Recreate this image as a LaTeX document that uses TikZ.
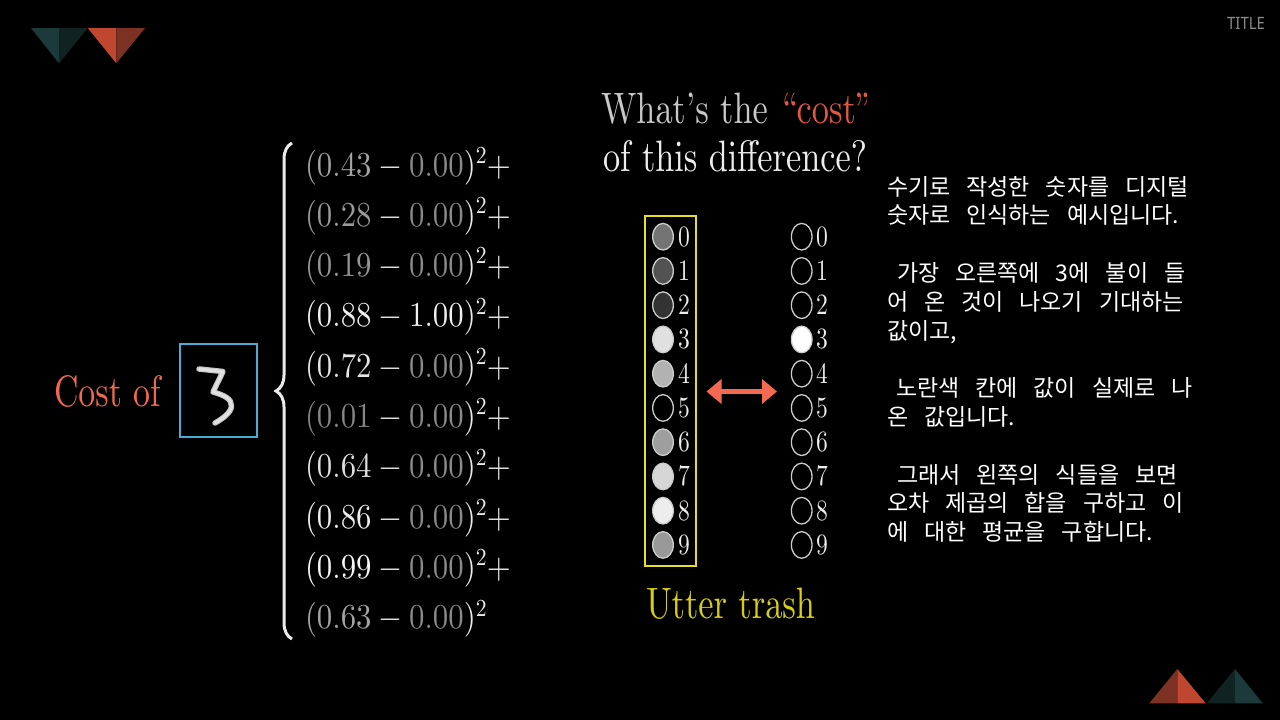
\RequirePackage{fix-cm}
\documentclass[tikz,border=0pt]{standalone}
\usepackage{fontspec}
\usepackage{graphicx}
\usetikzlibrary{arrows.meta,decorations.pathreplacing,shapes.geometric}
\DeclareFontShape{OT1}{cmr}{m}{n}{<->cmr10}{}
\newcommand{\cmten}{\fontencoding{OT1}\fontfamily{cmr}\fontseries{m}\fontshape{n}\selectfont}
\newfontfamily\krfont{Noto Sans CJK KR}
\newfontfamily\ttlfont{Noto Sans}
\definecolor{tealL}{RGB}{28,58,58}
\definecolor{tealD}{RGB}{16,34,34}
\definecolor{redL}{RGB}{192,71,47}
\definecolor{redD}{RGB}{125,49,34}
\definecolor{costred}{RGB}{226,88,64}
\definecolor{salmon}{RGB}{240,106,82}
\definecolor{boxcyan}{RGB}{72,172,214}
\definecolor{boxyellow}{RGB}{232,224,24}
\definecolor{trashyellow}{RGB}{214,206,22}
\definecolor{arrowred}{RGB}{244,106,80}
\definecolor{titlegray}{RGB}{140,140,140}
\definecolor{symw}{RGB}{234,234,234}
\definecolor{qgray}{RGB}{200,200,200}
\newcommand{\sqz}[2]{\scalebox{#1}[1]{#2}}
\newcommand{\erow}[5]{\sqz{0.88}{\fontsize{35}{40}\cmten$\textcolor{white!#2!black}{(#1}-\textcolor{white!#4!black}{#3}{)^2#5}$}}
\newcommand{\kr}[1]{\krfont\fontsize{23}{28}\selectfont\spaceskip=16pt\relax #1}
\newcommand{\dg}[1]{\sqz{0.8}{\fontsize{29.5}{30}\cmten #1}}
\begin{document}
\begin{tikzpicture}[x=1pt,y=-1pt,
  txt/.style={inner sep=0pt,outer sep=0pt},
  eq/.style={txt,anchor=base west,text=symw},
  kline/.style={txt,anchor=base west,text=white},
  neuron/.style={ellipse,draw=white!80!black,line width=1.3pt,minimum width=20.6pt,minimum height=26.6pt,inner sep=0pt},
  dlabel/.style={txt,text=white!93!black},
  big/.style={txt,anchor=base west}]
\useasboundingbox (0,0) rectangle (1280,720);
\fill[black] (0,0) rectangle (1280,720);
% decorative triangles top-left
\fill[tealL] (31,28) -- (59,28) -- (59,63.3) -- cycle;
\fill[tealD] (59,28) -- (87.7,28) -- (59,63.3) -- cycle;
\fill[redL] (87.7,28) -- (116.3,28) -- (116.3,63.3) -- cycle;
\fill[redD] (116.3,28) -- (145,28) -- (116.3,63.3) -- cycle;
% decorative triangles bottom-right
\fill[redD] (1149.3,703.3) -- (1177.3,703.3) -- (1177.3,669) -- cycle;
\fill[redL] (1177.3,703.3) -- (1205.7,703.3) -- (1177.3,669) -- cycle;
\fill[tealD] (1206.7,703.3) -- (1235,703.3) -- (1235,669) -- cycle;
\fill[tealL] (1235,703.3) -- (1262.7,703.3) -- (1235,669) -- cycle;
% title
\node[txt,anchor=base east,text=titlegray] (ttl) at (1265,29.3) {\sqz{0.88}{\ttlfont\fontsize{17}{17}\selectfont TITLE}};
\begin{scope}
\clip (0,0) rectangle (866,720);
% cost of
\node[big,text=salmon] (cost) at (54,406) {\sqz{0.77}{\fontsize{44}{50}\cmten Cost of}};
\node[draw=boxcyan,line width=2pt,minimum width=76.7pt,minimum height=93pt,inner sep=0pt] (imgbox) at (218.3,390.5) {};
\draw[gray!45,line width=5.5pt,line cap=round,line join=round] (199,369) -- (223,371.5) -- (213,392) .. controls (224,395) and (232,399) .. (231.5,406) .. controls (231,413) and (222,419) .. (215,423);
\draw[white!88!black,line width=3.2pt,line cap=round,line join=round] (199,369) -- (223,371.5) -- (213,392) .. controls (224,395) and (232,399) .. (231.5,406) .. controls (231,413) and (222,419) .. (215,423);
% brace
\coordinate (brB) at (292,639);
\coordinate (brT) at (292,143);
\draw[decorate,decoration={brace,amplitude=16pt,aspect=0.5},line width=3pt,draw=symw] (brB) -- (brT);
% equation rows
\node[eq] (r0) at (305,176.0) {\erow{0.43}{64}{0.00}{54}{+}};
\node[eq] (r1) at (305,226.3) {\erow{0.28}{60}{0.00}{54}{+}};
\node[eq] (r2) at (305,276.6) {\erow{0.19}{58}{0.00}{54}{+}};
\node[eq] (r3) at (305,326.9) {\erow{0.88}{94}{1.00}{94}{+}};
\node[eq] (r4) at (305,377.2) {\erow{0.72}{90}{0.00}{54}{+}};
\node[eq] (r5) at (305,427.5) {\erow{0.01}{52}{0.00}{54}{+}};
\node[eq] (r6) at (305,477.8) {\erow{0.64}{88}{0.00}{54}{+}};
\node[eq] (r7) at (305,528.1) {\erow{0.86}{93}{0.00}{54}{+}};
\node[eq] (r8) at (305,578.4) {\erow{0.99}{96}{0.00}{54}{+}};
\node[eq] (r9) at (305,628.7) {\erow{0.63}{64}{0.00}{54}{}};
% question
\node[big,text=qgray] (q1) at (601,123) {\sqz{0.78}{\fontsize{44}{50}\cmten What's the \textcolor{costred}{``cost''}}};
\node[big,text=white!93!black] (q2) at (603,171.5) {\sqz{0.78}{\fontsize{44}{50}\cmten of this difference?}};
% yellow box
\node[draw=boxyellow,line width=2pt,minimum width=51pt,minimum height=350pt,inner sep=0pt] (ybox) at (670.5,391) {};
% left neurons
\node[neuron,fill=white!45!black] (L0) at (663,236.7) {};
\node[neuron,fill=white!32!black] (L1) at (663,270.95) {};
\node[neuron,fill=white!20!black] (L2) at (663,305.2) {};
\node[neuron,fill=white!88!black] (L3) at (663,339.45) {};
\node[neuron,fill=white!70!black] (L4) at (663,373.7) {};
\node[neuron,fill=black] (L5) at (663,407.95) {};
\node[neuron,fill=white!62!black] (L6) at (663,442.2) {};
\node[neuron,fill=white!84!black] (L7) at (663,476.45) {};
\node[neuron,fill=white!93!black] (L8) at (663,510.7) {};
\node[neuron,fill=white!60!black] (L9) at (663,544.95) {};
\foreach \k/\yy in {0/236.7,1/270.95,2/305.2,3/339.45,4/373.7,5/407.95,6/442.2,7/476.45,8/510.7,9/544.95}{
  \node[dlabel] (lt\k) at (684,\yy) {\dg{\k}};
  \node[dlabel] (rt\k) at (822,\yy) {\dg{\k}};
}
% right neurons
\node[neuron,fill=black] (R0) at (801.7,236.7) {};
\node[neuron,fill=black] (R1) at (801.7,270.95) {};
\node[neuron,fill=black] (R2) at (801.7,305.2) {};
\node[neuron,fill=white] (R3) at (801.7,339.45) {};
\node[neuron,fill=black] (R4) at (801.7,373.7) {};
\node[neuron,fill=black] (R5) at (801.7,407.95) {};
\node[neuron,fill=black] (R6) at (801.7,442.2) {};
\node[neuron,fill=black] (R7) at (801.7,476.45) {};
\node[neuron,fill=black] (R8) at (801.7,510.7) {};
\node[neuron,fill=black] (R9) at (801.7,544.95) {};
% arrow
\coordinate (aL) at (706.5,391.5);
\coordinate (aR) at (777,391.5);
\draw[arrowred,line width=5pt,{Triangle[length=15pt,width=24pt]}-{Triangle[length=15pt,width=24pt]}] (aL) -- (aR);
% utter trash
\node[big,text=trashyellow] (trash) at (646,618) {\sqz{0.78}{\fontsize{44}{50}\cmten Utter trash}};
\end{scope}
% korean text
\node[kline] (k1) at (887,195) {\kr{수기로 작성한 숫자를 디지털}};
\node[kline] (k2) at (887,223.8) {\kr{숫자로 인식하는 예시입니다.}};
\node[kline] (k3) at (897,281.4) {\kr{가장 오른쪽에 3에 불이 들}};
\node[kline] (k4) at (887,310.2) {\kr{어 온 것이 나오기 기대하는}};
\node[kline] (k5) at (887,339) {\kr{값이고,}};
\node[kline] (k6) at (896,396.6) {\kr{노란색 칸에 값이 실제로 나}};
\node[kline] (k7) at (887,425.4) {\kr{온 값입니다.}};
\node[kline] (k8) at (897,483) {\kr{그래서 왼쪽의 식들을 보면}};
\node[kline] (k9) at (887,511.8) {\kr{오차 제곱의 합을 구하고 이}};
\node[kline] (k10) at (887,540.6) {\kr{에 대한 평균을 구합니다.}};
\end{tikzpicture}
\end{document}
